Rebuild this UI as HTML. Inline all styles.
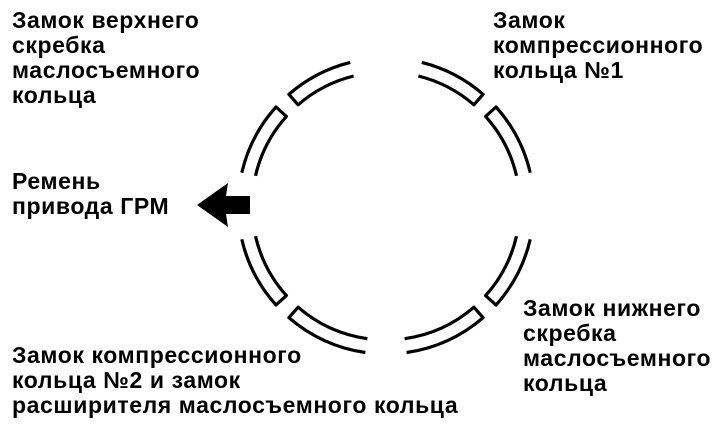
<!DOCTYPE html>
<html><head><meta charset="utf-8"><style>
html,body{margin:0;padding:0;background:#fff}
body{width:720px;height:427px;position:relative;overflow:hidden;font-family:"Liberation Sans",Arial,sans-serif;font-weight:bold;font-size:23px;line-height:25px;color:#000}
.t{position:absolute;white-space:nowrap;letter-spacing:0.6px}
svg{position:absolute;left:0;top:0}
</style></head><body>
<svg width="720" height="427" viewBox="0 0 720 427">
<g fill="none" stroke="#000" stroke-width="3.2" stroke-linejoin="round">
<path d="M350.2,62.4 A148 148 0 0 0 288.9,94.3 L298.1,104.8 A134 134 0 0 1 353.6,76"/>
<path d="M241.8,172.7 A148 148 0 0 1 276,107 L286.4,116.4 A134 134 0 0 0 255.5,175.8"/>
<path d="M241.8,239.3 A148 148 0 0 0 276,305 L286.4,295.6 A134 134 0 0 1 255.5,236.2"/>
<path d="M365.4,352.5 A148 148 0 0 1 288.9,317.7 L298.1,307.2 A134 134 0 0 0 367.4,338.7"/>
<path d="M406.6,352.5 A148 148 0 0 0 483.1,317.7 L473.9,307.2 A134 134 0 0 1 404.6,338.7"/>
<path d="M530.2,239.3 A148 148 0 0 1 496,305 L485.6,295.6 A134 134 0 0 0 516.5,236.2"/>
<path d="M530.2,172.7 A148 148 0 0 0 496,107 L485.6,116.4 A134 134 0 0 1 516.5,175.8"/>
<path d="M421.8,62.4 A148 148 0 0 1 483.1,94.3 L473.9,104.8 A134 134 0 0 0 418.4,76"/>
</g>
<path d="M197,205 L228,183 L226,196 L250,196 L250,214 L226,214 L228,227 Z" fill="#000"/>
</svg>
<div class="t" style="left:12px;top:8px">Замок верхнего<br>скребка<br>маслосъемного<br>кольца</div>
<div class="t" style="left:493px;top:8px">Замок<br>компрессионного<br>кольца №1</div>
<div class="t" style="left:12px;top:169px">Ремень<br>привода ГРМ</div>
<div class="t" style="left:523px;top:296px">Замок нижнего<br>скребка<br>маслосъемного<br>кольца</div>
<div class="t" style="left:12px;top:343px">Замок компрессионного<br>кольца №2 и замок<br>расширителя маслосъемного кольца</div>
</body></html>
